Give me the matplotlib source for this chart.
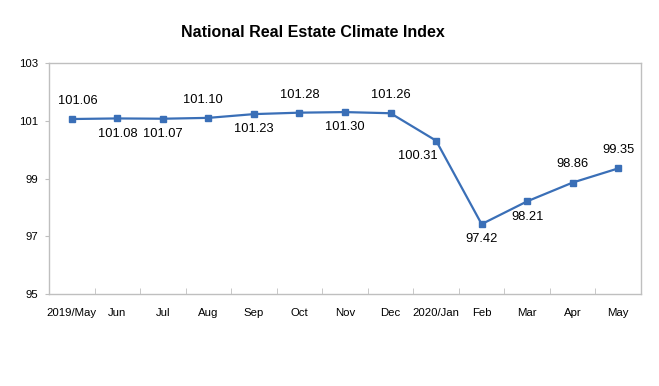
import matplotlib.pyplot as plt

# data
months = ["2019/May", "Jun", "Jul", "Aug", "Sep", "Oct", "Nov", "Dec",
          "2020/Jan", "Feb", "Mar", "Apr", "May"]
index_values = [101.06, 101.08, 101.07, 101.10, 101.23, 101.28, 101.30,
                101.26, 100.31, 97.42, 98.21, 98.86, 99.35]
# label offsets (points) for each data label
label_dx = [4, 0, 0, -4, 0, 0, 0, 0, -13, 0, 0, 0, 0]
label_dy = [13, -11, -11, 13, -11, 13, -11, 13, -11, -11, -11, 13, 13]

plt.rcParams['font.family'] = ['Liberation Sans', 'DejaVu Sans']

fig = plt.figure(figsize=(6.59, 3.86), dpi=100)
ax = fig.add_axes([0.0744, 0.2383, 0.8983, 0.5985])

x = list(range(len(months)))
color = "#3A6FB7"
ax.plot(x, index_values, color=color, lw=1.6, marker="s", markersize=4.2)

for i, v in enumerate(index_values):
    ax.annotate(f"{v:.2f}", (i, v), xytext=(label_dx[i], label_dy[i]),
                textcoords="offset points", ha="center", va="center",
                fontsize=9.3, color="#000000")

ax.set_xlim(-0.5, len(months) - 0.5)
ax.set_ylim(95, 103)
ax.set_yticks([95, 97, 99, 101, 103])
ax.set_xticks(x)
ax.set_xticklabels(months)
ax.set_xticks([i + 0.5 for i in range(len(months) - 1)], minor=True)

ax.tick_params(axis="x", which="major", length=0, pad=10, labelsize=8.2)
ax.tick_params(axis="x", which="minor", direction="in", length=4, color="#BFBFBF")
ax.tick_params(axis="y", direction="out", length=3, pad=5, labelsize=8.2, color="#BFBFBF")

for s in ax.spines.values():
    s.set_color("#BFBFBF")
    s.set_linewidth(1)

fig.text(0.475, 0.917, "National Real Estate Climate Index", ha="center",
         va="center", fontsize=11.5, fontweight="bold")

plt.savefig("out.png")
plt.close()
